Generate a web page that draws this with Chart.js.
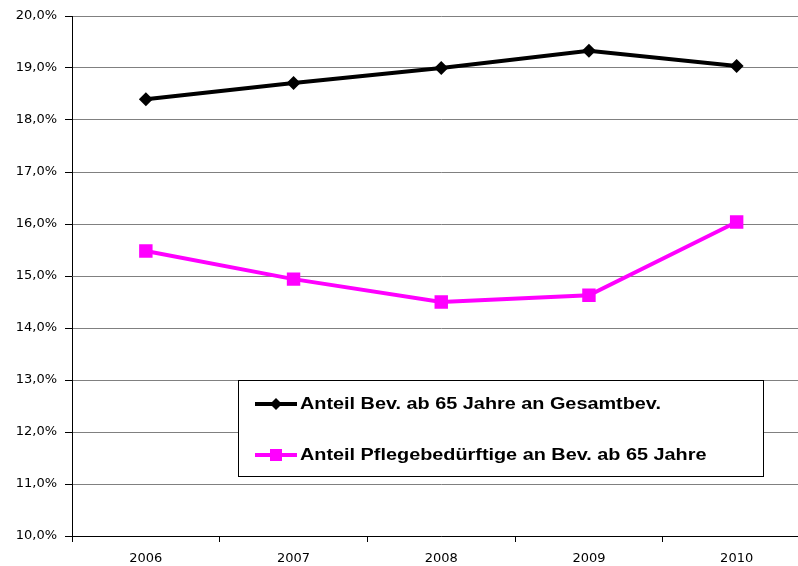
<!DOCTYPE html>
<html>
<head>
<meta charset="utf-8">
<script src="https://cdn.jsdelivr.net/npm/chart.js@4/dist/chart.umd.min.js"></script>
<style>
  html, body { margin: 0; padding: 0; overflow: hidden; background: #fff; }
</style>
</head>
<body>
<canvas id="canvas" width="820" height="566"></canvas>
<script>
var years = ['2006', '2007', '2008', '2009', '2010'];
var anteilBev65 = [18.40, 18.71, 19.00, 19.33, 19.04];
var anteilPflege = [15.48, 14.94, 14.50, 14.63, 16.04];
var seriesLabels = ['Anteil Bev. ab 65 Jahre an Gesamtbev.', 'Anteil Pflegebedürftige an Bev. ab 65 Jahre'];

// legend box drawn inside the plot area
var boxLegend = {
   id: 'boxLegend',
   afterDraw: function(chart) {
      var ctx = chart.ctx;
      var x0 = 238.5, y0 = 380.5, w = 525, h = 96;
      ctx.save();
      ctx.fillStyle = '#fff';
      ctx.fillRect(x0, y0, w, h);
      ctx.strokeStyle = '#000';
      ctx.lineWidth = 1;
      ctx.strokeRect(x0, y0, w, h);
      var rows = [404, 455];
      chart.data.datasets.forEach(function(ds, i) {
         var y = rows[i];
         ctx.strokeStyle = ds.borderColor;
         ctx.lineWidth = 4;
         ctx.beginPath();
         ctx.moveTo(255, y);
         ctx.lineTo(297, y);
         ctx.stroke();
         ctx.fillStyle = ds.pointBackgroundColor;
         if (ds.pointStyle === 'rectRot') {
            ctx.beginPath();
            ctx.moveTo(276, y - 6);
            ctx.lineTo(282, y);
            ctx.lineTo(276, y + 6);
            ctx.lineTo(270, y);
            ctx.closePath();
            ctx.fill();
         } else {
            ctx.fillRect(270, y - 6, 12, 12);
         }
         // the original text is drawn a bit wider than normal
         ctx.save();
         ctx.translate(300, y + 1);
         ctx.scale(1.24, 1);
         ctx.fillStyle = '#000';
         ctx.font = 'bold 16px "Liberation Sans", Arial, sans-serif';
         ctx.textBaseline = 'middle';
         ctx.fillText(ds.label, 0, 0);
         ctx.restore();
      });
      ctx.restore();
   }
};

var tickFont = { family: '"DejaVu Sans", sans-serif', size: 13 };

var config = {
   type: 'line',
   data: {
      labels: years,
      datasets: [{
         label: seriesLabels[0],
         data: anteilBev65,
         borderColor: '#000000',
         backgroundColor: '#000000',
         pointBackgroundColor: '#000000',
         pointBorderColor: '#000000',
         pointStyle: 'rectRot',
         pointRadius: 7,
         pointBorderWidth: 0,
         borderWidth: 4,
         tension: 0
      }, {
         label: seriesLabels[1],
         data: anteilPflege,
         borderColor: '#ff00ff',
         backgroundColor: '#ff00ff',
         pointBackgroundColor: '#ff00ff',
         pointBorderColor: '#ff00ff',
         pointStyle: 'rect',
         pointRadius: 9.5,
         pointBorderWidth: 0,
         borderWidth: 4,
         tension: 0
      }]
   },
   options: {
      responsive: false,
      animation: false,
      layout: { padding: { top: 16, left: 0, right: 0, bottom: 0 } },
      plugins: {
         legend: { display: false },
         title: { display: false },
         tooltip: { enabled: false }
      },
      scales: {
         y: {
            min: 10,
            max: 20,
            afterFit: function(axis) { axis.width = 72; },
            ticks: {
               stepSize: 1,
               padding: 8,
               color: '#000',
               font: tickFont,
               callback: function(v) { return v.toFixed(1).replace('.', ',') + '%'; }
            },
            grid: { color: '#808080', lineWidth: 1, tickLength: 7, tickColor: '#000' },
            border: { color: '#000', width: 1 }
         },
         x: {
            offset: true,
            afterFit: function(axis) { axis.height = 30; },
            ticks: {
               padding: 9,
               color: '#000',
               font: tickFont
            },
            grid: { offset: true, drawOnChartArea: false, tickLength: 6, color: '#000' },
            border: { color: '#000', width: 1 }
         }
      }
   },
   plugins: [boxLegend]
};

window.lineChart = new Chart(document.getElementById('canvas'), config);
</script>
</body>
</html>
